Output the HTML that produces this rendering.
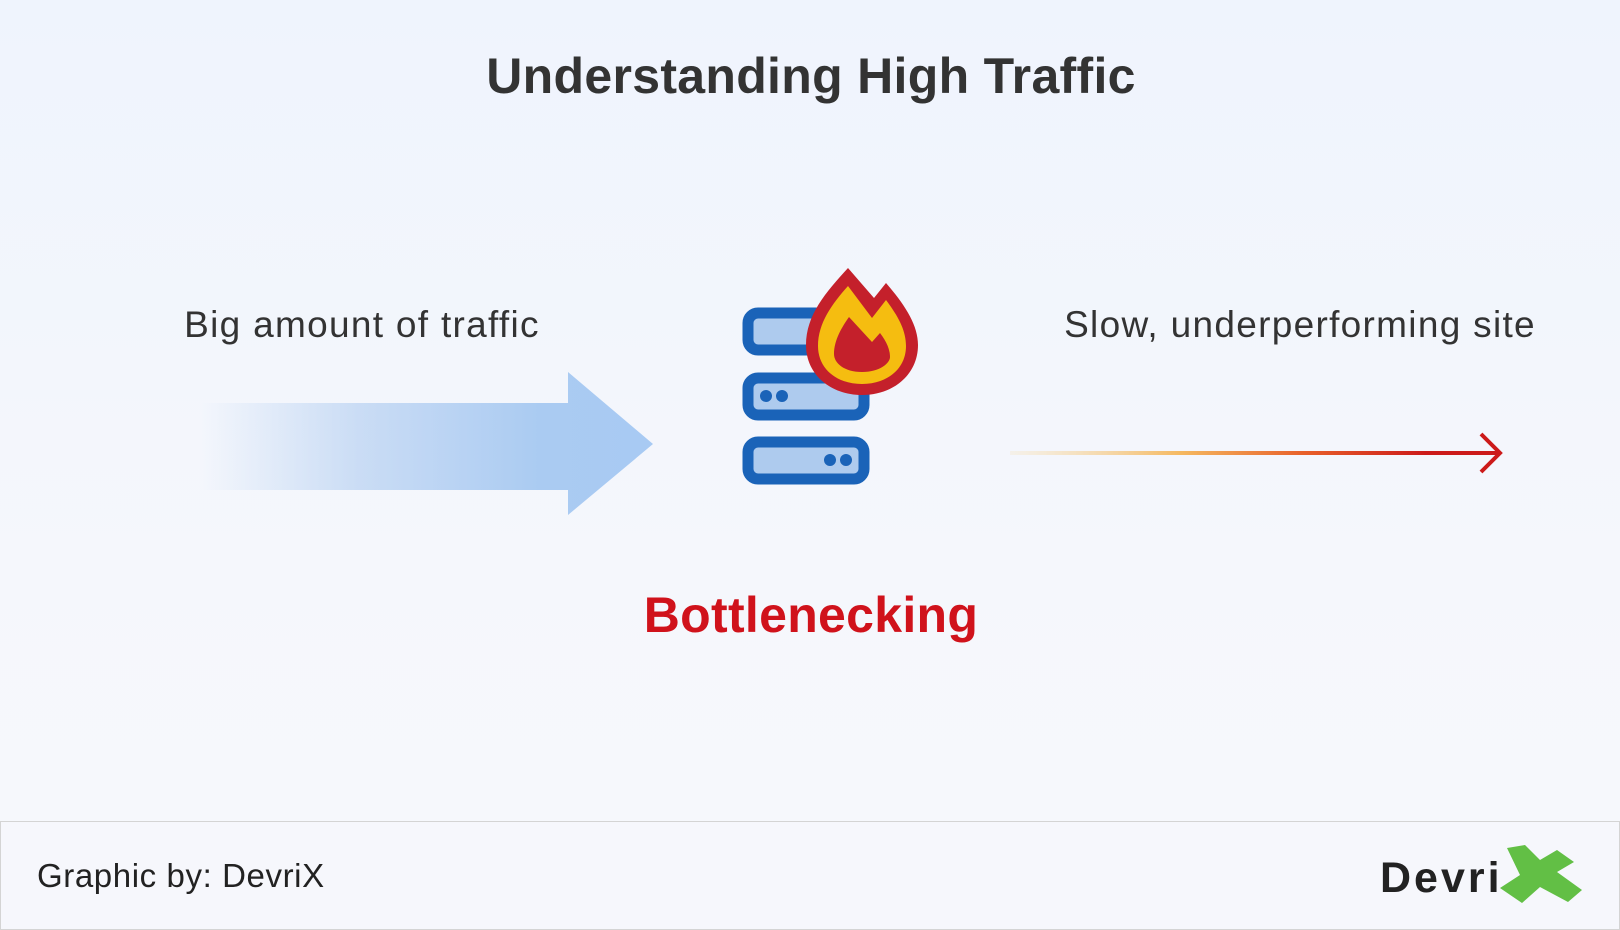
<!DOCTYPE html>
<html><head><meta charset="utf-8"><style>
html,body{margin:0;padding:0}
body{width:1620px;height:930px;position:relative;overflow:hidden;background:linear-gradient(#eff4fd,#f5f7fc 60%,#f7f8fc);font-family:"Liberation Sans",sans-serif;}
.t{position:absolute;white-space:nowrap;transform:translate(-50%,-50%);color:#333;}
</style></head><body>
<div class="t" style="left:811px;top:76px;font-size:50px;font-weight:bold;letter-spacing:0.3px;">Understanding High Traffic</div>
<div class="t" style="left:362px;top:325px;font-size:37px;letter-spacing:1.3px;">Big amount of traffic</div>
<div class="t" style="left:1300px;top:325px;font-size:37px;letter-spacing:1.3px;">Slow, underperforming site</div>
<div class="t" style="left:811px;top:615px;font-size:50px;font-weight:bold;color:#d0121b;letter-spacing:0.3px;">Bottlenecking</div>
<svg width="1620" height="930" style="position:absolute;left:0;top:0">
<defs>
<linearGradient id="ba" x1="201" x2="653" y1="0" y2="0" gradientUnits="userSpaceOnUse">
<stop offset="0" stop-color="#aecbf0" stop-opacity="0"/><stop offset="0.35" stop-color="#aecbf0" stop-opacity="0.6"/><stop offset="0.75" stop-color="#aacbf2"/><stop offset="1" stop-color="#a8caf3"/></linearGradient>
<linearGradient id="ra" x1="1010" x2="1500" y1="0" y2="0" gradientUnits="userSpaceOnUse">
<stop offset="0" stop-color="#f7d9a0" stop-opacity="0.2"/><stop offset="0.35" stop-color="#f5b860"/><stop offset="0.6" stop-color="#e8602a"/><stop offset="0.85" stop-color="#cc1a1a"/><stop offset="1" stop-color="#cc1a1a"/></linearGradient>
</defs>
<polygon points="201,403 568,403 568,372 653,444 568,515 568,490 201,490" fill="url(#ba)"/>
<line x1="1010" y1="453" x2="1499" y2="453" stroke="url(#ra)" stroke-width="4"/>
<polyline points="1481,434 1500,453 1481,472" fill="none" stroke="#cc1a1a" stroke-width="4"/>
<g fill="#aecbee" stroke="#1a63b8" stroke-width="11">
<rect x="748" y="313" width="116" height="37" rx="10"/>
<rect x="748" y="378" width="116" height="37" rx="10"/>
<rect x="748" y="442" width="116" height="37" rx="10"/>
</g>
<g fill="#1a63b8"><circle cx="766" cy="396" r="6"/><circle cx="782" cy="396" r="6"/><circle cx="830" cy="460" r="6"/><circle cx="846" cy="460" r="6"/></g>
<path d="M848,268 L874,298 L886,283 C905,305 918,325 918,345 C918,374 894,395 862,395 C830,395 806,374 806,345 C806,315 826,292 848,268 Z" fill="#c4202b"/>
<path d="M848,286 L872,318 L886,300 C898,316 906,330 906,346 C906,369 887,384 862,384 C837,384 818,369 818,346 C818,323 832,304 848,286 Z" fill="#f5bd10"/>
<path d="M849,317 L872,342 L880,333 C887,342 890,350 890,357 C890,363 880,372 862,372 C844,372 834,363 834,354 C834,340 842,327 849,317 Z" fill="#c4202b"/>
</svg>
<div style="position:absolute;left:0;top:821px;width:1618px;height:107px;border:1px solid #d4d4d4;background:#f6f7fc;"></div>
<div style="position:absolute;left:37px;top:876px;transform:translateY(-50%);font-size:33px;letter-spacing:0.6px;color:#222;white-space:nowrap;">Graphic by: DevriX</div>
<svg width="1620" height="930" style="position:absolute;left:0;top:0">
<polygon points="1507,848 1525,845 1540,860 1557,850 1574,862 1557,872 1582,890 1568,902 1540,887 1522,903 1500,888 1520,875" fill="#62bf45"/>
<text x="1380" y="892" font-family="Liberation Sans, sans-serif" font-size="43" font-weight="bold" fill="#222" letter-spacing="3">Devri</text>
</svg>
</body></html>
